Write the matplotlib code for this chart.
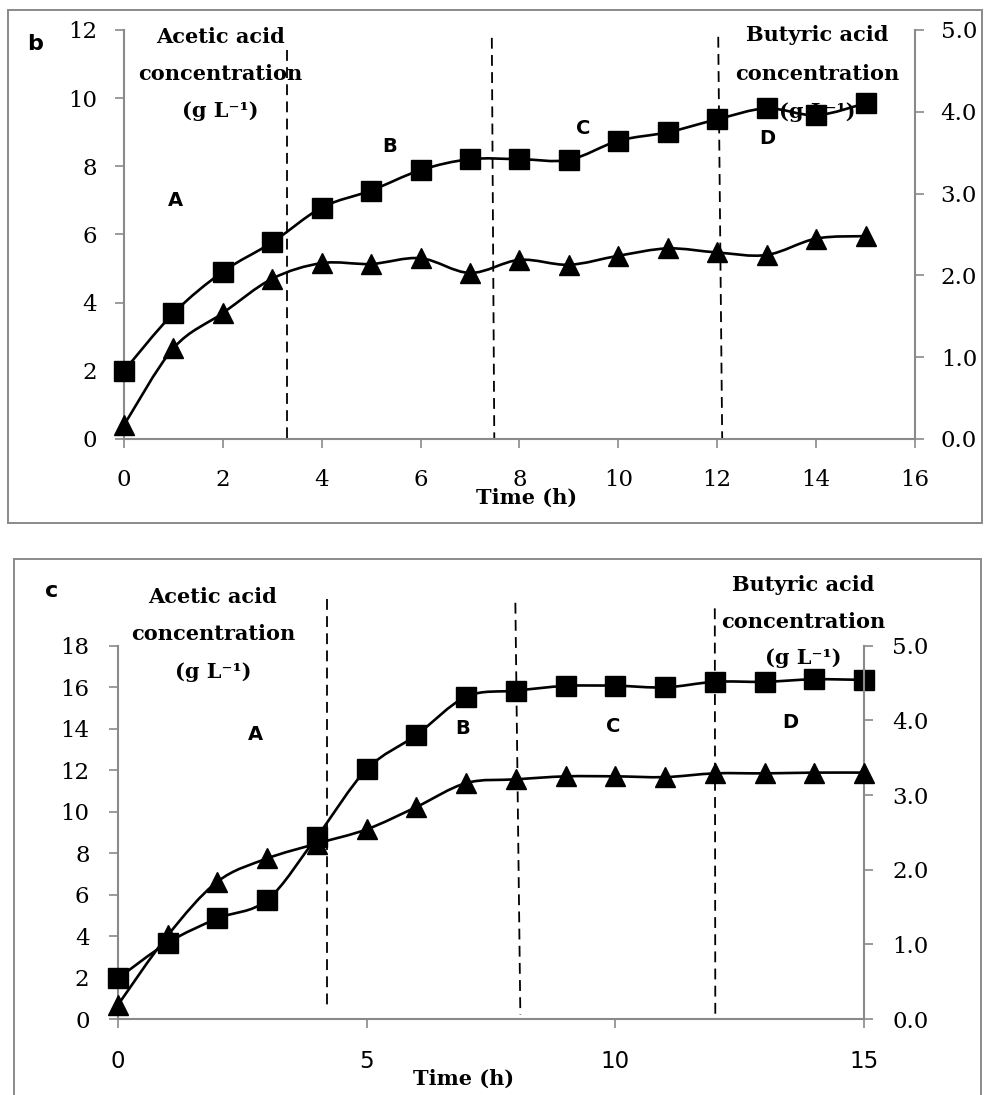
import numpy as np
import matplotlib
matplotlib.use("Agg")
import matplotlib.pyplot as plt  # noqa: E402
from matplotlib.path import Path  # noqa: E402
from matplotlib.patches import PathPatch, Rectangle  # noqa: E402
from matplotlib.ticker import FormatStrFormatter  # noqa: E402

W, H = 984, 1095
GRAY = "#8a8a8a"
SERIF = "DejaVu Serif"
SANS = "DejaVu Sans"

# panel b
time_b = list(range(16))
acetic_b = [2.0, 3.69, 4.91, 5.77, 6.79, 7.29, 7.89, 8.21,
            8.21, 8.19, 8.75, 9.0, 9.38, 9.7, 9.5, 9.85]
butyric_b = [0.17, 1.11, 1.54, 1.96, 2.15, 2.14, 2.21, 2.03,
             2.19, 2.13, 2.24, 2.33, 2.28, 2.25, 2.45, 2.48]
# phase boundaries: (x at top, x at bottom, y top, y bottom) on the left axis
phase_b = [(3.29, 3.29, 11.4, 0.0), (7.44, 7.49, 11.77, 0.0), (12.02, 12.1, 11.8, 0.0)]

# panel c
time_c = list(range(16))
acetic_c = [1.96, 3.68, 4.85, 5.74, 8.79, 12.04, 13.69, 15.54,
            15.83, 16.06, 16.07, 15.99, 16.26, 16.26, 16.38, 16.35]
butyric_c = [0.19, 1.12, 1.84, 2.15, 2.35, 2.54, 2.84, 3.16,
             3.21, 3.25, 3.25, 3.24, 3.29, 3.29, 3.30, 3.30]
phase_c = [(4.2, 4.2, 20.25, 0.6), (7.99, 8.09, 20.07, 0.2), (12.0, 12.01, 19.8, 0.2)]


def px(x, y):
    return x / W, 1 - y / H


def smooth(ax, x, y, **kw):
    # Excel-style smoothed line (Catmull-Rom as cubic Bezier segments)
    p = np.column_stack([x, y]).astype(float)
    q = np.vstack([p[0], p, p[-1]])
    verts = [p[0]]
    codes = [Path.MOVETO]
    for i in range(len(p) - 1):
        c1 = q[i + 1] + (q[i + 2] - q[i]) / 6
        c2 = q[i + 2] - (q[i + 3] - q[i + 1]) / 6
        verts += [c1, c2, q[i + 2]]
        codes += [Path.CURVE4] * 3
    ax.add_patch(PathPatch(Path(verts, codes), fill=False, **kw))


def style(ax, ax2, pad_l, pad_r, pad_x):
    for s in ["top", "right"]:
        ax.spines[s].set_visible(False)
    for s in ["top", "left", "bottom"]:
        ax2.spines[s].set_visible(False)
    for s in [ax.spines["left"], ax.spines["bottom"], ax2.spines["right"]]:
        s.set_color(GRAY); s.set_linewidth(1.5)
    kw = dict(direction="out", length=6.5, width=1.2, color=GRAY, labelsize=16.5)
    ax.tick_params(axis="y", pad=pad_l, **kw)
    ax.tick_params(axis="x", pad=pad_x, **kw)
    ax2.tick_params(axis="y", pad=pad_r, **kw)
    ax2.yaxis.set_major_formatter(FormatStrFormatter("%.1f"))


def fonts(ax, ax2, xfont):
    for lb in ax.get_yticklabels() + ax2.get_yticklabels():
        lb.set_fontfamily(SERIF)
    for lb in ax.get_xticklabels():
        lb.set_fontfamily(xfont)


def label_block(lines, x, ys, size=15):
    for t, y in zip(lines, ys):
        fig.text(*px(x, y), t, ha="center", va="center", family=SERIF,
                 fontweight="bold", fontsize=size)


def draw_panel(ax, t, ac, bu, phases, ymax):
    ax2 = ax.twinx()
    smooth(ax, t, ac, color="black", lw=1.9, zorder=3)
    ax.plot(t, ac, ls="none", marker="s", ms=14, color="black", zorder=4, clip_on=False)
    smooth(ax2, t, bu, color="black", lw=1.9, zorder=3)
    ax2.plot(t, bu, ls="none", marker="^", ms=15, color="black", zorder=4, clip_on=False)
    for xt, xb, yt, yb in phases:
        ax.plot([xt, xb], [yt, yb], color="black", lw=1.3, ls=(0, (6, 3.5)),
                clip_on=False, zorder=2)
    ax.set_ylim(0, ymax)
    ax2.set_ylim(0, 5)
    ax2.set_yticks(np.arange(0, 5.01, 1.0))
    return ax2


fig = plt.figure(figsize=(W / 100, H / 100), dpi=100)
fig.patch.set_facecolor("white")

# frames round the two panels
fig.add_artist(Rectangle(px(8, 523), 974 / W, 513 / H, transform=fig.transFigure,
                         fill=False, edgecolor=GRAY, lw=1.4))
fig.add_artist(Rectangle(px(14, 1110), 967 / W, 551 / H, transform=fig.transFigure,
                         fill=False, edgecolor=GRAY, lw=1.4))

# panel b
axb = fig.add_axes([124 / W, 1 - 439 / H, 791 / W, 409 / H])
axb2 = draw_panel(axb, time_b, acetic_b, butyric_b, phase_b, 12)
axb.set_xlim(0, 16)
axb.set_xticks(np.arange(0, 17, 2))
axb.set_yticks(np.arange(0, 13, 2))
style(axb, axb2, 13, 12, 15)

# panel c
axc = fig.add_axes([118 / W, 1 - 1019 / H, 746 / W, 373.3 / H])
axc2 = draw_panel(axc, time_c, acetic_c, butyric_c, phase_c, 18)
axc.set_xlim(0, 15)
axc.set_xticks(np.arange(0, 16, 5))
axc.set_yticks(np.arange(0, 19, 2))
style(axc, axc2, 14, 14, 16)

# texts, panel b
fig.text(*px(35, 44), "b", ha="center", va="center", family=SANS, fontweight="bold", fontsize=16)
label_block(["Acetic acid", "concentration", "(g L⁻¹)"], 220, [37, 74, 111])
label_block(["Butyric acid", "concentration", "(g L⁻¹)"], 817, [35, 74, 112])
for ch, x, y in [("A", 175, 200), ("B", 390, 147), ("C", 583, 128), ("D", 767, 138)]:
    fig.text(*px(x, y), ch, ha="center", va="center", family=SANS, fontweight="bold", fontsize=14)
label_block(["Time (h)"], 527, [498])

# texts, panel c
fig.text(*px(52, 591), "c", ha="center", va="center", family=SANS, fontweight="bold", fontsize=16)
label_block(["Acetic acid", "concentration", "(g L⁻¹)"], 213, [597, 634, 672])
label_block(["Butyric acid", "concentration", "(g L⁻¹)"], 803, [585, 622, 658])
for ch, x, y in [("A", 255, 735), ("B", 463, 728), ("C", 613, 727), ("D", 790, 722)]:
    fig.text(*px(x, y), ch, ha="center", va="center", family=SANS, fontweight="bold", fontsize=14)
label_block(["Time (h)"], 464, [1079])

# tick label fonts once the ticks exist
fig.canvas.draw()
fonts(axb, axb2, SERIF)
fonts(axc, axc2, SANS)

fig.savefig("out.png", dpi=100)
